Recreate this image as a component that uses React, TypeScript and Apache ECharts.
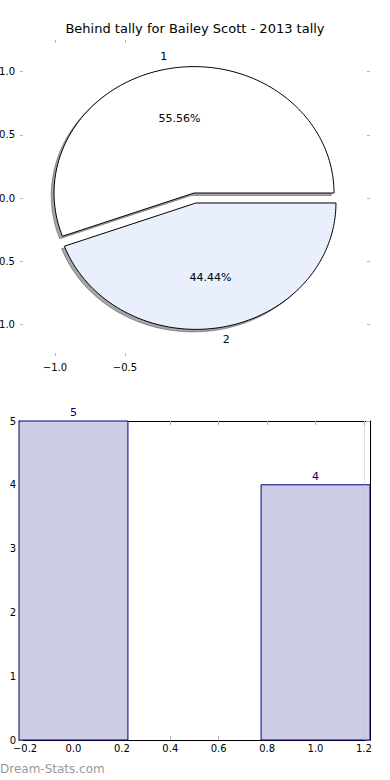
import React, { useEffect, useRef } from "react";
import * as echarts from "echarts";

const TITLE = "Behind tally for Bailey Scott - 2013 tally";
const WATERMARK = "Dream-Stats.com";

const PIE_LABELS = ["1", "2"];
const PIE_VALUES = [5, 4];
const PIE_EXPLODE = [0.04, 0.04];
const PIE_X_TICKS = [-1.0, -0.5];
const PIE_Y_TICKS = [-1.0, -0.5, 0.0, 0.5, 1.0];

const BAR_POSITIONS = [0, 1];
const BAR_VALUES = [5, 4];
const BAR_X_TICKS = [-0.2, 0.0, 0.2, 0.4, 0.6, 0.8, 1.0, 1.2];
const BAR_Y_TICKS = [0, 1, 2, 3, 4, 5];
const BAR_GUIDE_X = 1.2;

const PIE_COLORS = ["#ffffff", "#e9effc"];
const FONT = "DejaVu Sans";
const TICK_COLOR = "#b4b4b4";

const fmt1 = (v: number) => (v < 0 ? "\u2212" : "") + Math.abs(v).toFixed(1);

function wedgePoints(i: number) {
  const total = PIE_VALUES.reduce((a, b) => a + b, 0);
  const before = PIE_VALUES.slice(0, i).reduce((a, b) => a + b, 0);
  const t1 = (before / total) * 2 * Math.PI;
  const t2 = ((before + PIE_VALUES[i]) / total) * 2 * Math.PI;
  const tm = (t1 + t2) / 2;
  const e = PIE_EXPLODE[i];
  const cx = e * Math.cos(tm);
  const cy = e * Math.sin(tm);
  const pts: number[][] = [[cx, cy]];
  const N = 120;
  for (let k = 0; k <= N; k++) {
    const a = t1 + ((t2 - t1) * k) / N;
    pts.push([cx + Math.cos(a), cy + Math.sin(a)]);
  }
  return { pts, cx, cy, tm, pct: (PIE_VALUES[i] / total) * 100 };
}

export default function App() {
  const ref = useRef<HTMLDivElement>(null);
  useEffect(() => {
    if (!ref.current) return;
    const chart = echarts.init(ref.current, undefined, { renderer: "svg" });
    const tickStyle = { color: TICK_COLOR, width: 1 };
    const option: any = {
      animation: false,
      textStyle: { fontFamily: FONT },
      title: {
        text: TITLE,
        left: "center",
        top: 22,
        padding: 0,
        textStyle: { fontSize: 13, fontWeight: "normal", color: "#000", fontFamily: FONT },
      },
      graphic: [
        {
          type: "text",
          left: 0,
          top: 763,
          style: { text: WATERMARK, fill: "#999", font: `12px "${FONT}"` },
        },
      ],
      grid: [
        { left: 20, top: 40, width: 350, height: 316, show: false, containLabel: false, outerBoundsMode: "none" },
        { left: 19, top: 421, width: 351, height: 319, show: false, containLabel: false, outerBoundsMode: "none" },
      ],
      xAxis: [
        {
          type: "value", gridIndex: 0, min: -1.25, max: 1.25, position: "bottom",
          axisLine: { show: false, onZero: false },
          axisTick: { show: true, inside: true, length: 3, customValues: PIE_X_TICKS, lineStyle: tickStyle },
          axisLabel: { customValues: PIE_X_TICKS, formatter: fmt1, fontSize: 10, color: "#000", margin: 6, fontFamily: FONT },
          splitLine: { show: false },
        },
        {
          type: "value", gridIndex: 0, min: -1.25, max: 1.25, position: "top",
          axisLine: { show: false, onZero: false },
          axisTick: { show: true, inside: true, length: 3, customValues: PIE_X_TICKS, lineStyle: tickStyle },
          axisLabel: { show: false },
          splitLine: { show: false },
        },
        {
          type: "value", gridIndex: 1, min: -0.225, max: 1.225, position: "bottom",
          axisLine: { show: true, onZero: false, lineStyle: { color: "#000", width: 1 } },
          axisTick: { show: true, inside: true, length: 4, customValues: BAR_X_TICKS, lineStyle: tickStyle },
          axisLabel: { customValues: BAR_X_TICKS, formatter: fmt1, fontSize: 10, color: "#000", margin: 3, fontFamily: FONT },
          splitLine: { show: false },
        },
        {
          type: "value", gridIndex: 1, min: -0.225, max: 1.225, position: "top",
          axisLine: { show: true, onZero: false, lineStyle: { color: "#000", width: 1 } },
          axisTick: { show: true, inside: true, length: 4, customValues: BAR_X_TICKS, lineStyle: tickStyle },
          axisLabel: { show: false },
          splitLine: { show: false },
        },
      ],
      yAxis: [
        {
          type: "value", gridIndex: 0, min: -1.25, max: 1.25, position: "left",
          axisLine: { show: false, onZero: false },
          axisTick: { show: true, inside: true, length: 3, customValues: PIE_Y_TICKS, lineStyle: tickStyle },
          axisLabel: { customValues: PIE_Y_TICKS, formatter: fmt1, fontSize: 10, color: "#000", margin: 5, fontFamily: FONT },
          splitLine: { show: false },
        },
        {
          type: "value", gridIndex: 0, min: -1.25, max: 1.25, position: "right",
          axisLine: { show: false, onZero: false },
          axisTick: { show: true, inside: true, length: 3, customValues: PIE_Y_TICKS, lineStyle: tickStyle },
          axisLabel: { show: false },
          splitLine: { show: false },
        },
        {
          type: "value", gridIndex: 1, min: 0, max: 5, interval: 1, position: "left",
          axisLine: { show: true, onZero: false, lineStyle: { color: "#000", width: 1 } },
          axisTick: { show: true, inside: true, length: 4, customValues: BAR_Y_TICKS, lineStyle: tickStyle },
          axisLabel: { customValues: BAR_Y_TICKS, fontSize: 10, color: "#000", margin: 3, fontFamily: FONT },
          splitLine: { show: false },
        },
        {
          type: "value", gridIndex: 1, min: 0, max: 5, interval: 1, position: "right",
          axisLine: { show: true, onZero: false, lineStyle: { color: "#000", width: 1 } },
          axisTick: { show: true, inside: true, length: 4, customValues: BAR_Y_TICKS, lineStyle: tickStyle },
          axisLabel: { show: false },
          splitLine: { show: false },
        },
      ],
      series: [
        {
          type: "custom",
          name: "shadow",
          xAxisIndex: 0,
          yAxisIndex: 0,
          clip: false,
          z: 1,
          data: PIE_VALUES.map((v) => [0, 0, v]),
          renderItem: (params: any, api: any) => {
            const { pts } = wedgePoints(params.dataIndex);
            const points = pts.map((p) => api.coord([p[0] - 0.02, p[1] - 0.02]));
            return {
              type: "polygon",
              shape: { points },
              style: { fill: "rgba(77,77,77,0.5)", stroke: "rgba(77,77,77,0.5)", lineWidth: 1 },
            };
          },
        },
        {
          type: "custom",
          name: "pie",
          xAxisIndex: 0,
          yAxisIndex: 0,
          clip: false,
          z: 2,
          data: PIE_VALUES.map((v) => [0, 0, v]),
          renderItem: (params: any, api: any) => {
            const i = params.dataIndex;
            const { pts, cx, cy, tm, pct } = wedgePoints(i);
            const points = pts.map((p) => api.coord(p));
            const lx = cx + 1.1 * Math.cos(tm);
            const ly = cy + 1.1 * Math.sin(tm);
            const lp = api.coord([lx, ly]);
            const pp = api.coord([cx + 0.6 * Math.cos(tm), cy + 0.6 * Math.sin(tm)]);
            return {
              type: "group",
              children: [
                {
                  type: "polygon",
                  shape: { points },
                  style: { fill: PIE_COLORS[i], stroke: "#000", lineWidth: 1 },
                },
                {
                  type: "text",
                  x: lp[0],
                  y: lp[1],
                  style: {
                    text: PIE_LABELS[i],
                    fill: "#000",
                    font: `11px "${FONT}"`,
                    align: lx < 0 ? "right" : "left",
                    verticalAlign: "middle",
                  },
                },
                {
                  type: "text",
                  x: pp[0],
                  y: pp[1],
                  style: {
                    text: pct.toFixed(2) + "%",
                    fill: "#000",
                    font: `11px "${FONT}"`,
                    align: "center",
                    verticalAlign: "middle",
                  },
                },
              ],
            };
          },
        },
        {
          type: "custom",
          name: "bars",
          xAxisIndex: 2,
          yAxisIndex: 2,
          clip: false,
          z: 2,
          data: BAR_POSITIONS.map((x, i) => [x, BAR_VALUES[i]]),
          renderItem: (params: any, api: any) => {
            const x = api.value(0);
            const v = api.value(1);
            const p0 = api.coord([x - 0.225, v]);
            const p1 = api.coord([x + 0.225, 0]);
            const top = api.coord([x, v]);
            return {
              type: "group",
              children: [
                {
                  type: "rect",
                  shape: { x: p0[0], y: p0[1], width: p1[0] - p0[0], height: p1[1] - p0[1] },
                  style: { fill: "#ccccE5", stroke: "#000080", lineWidth: 1 },
                },
                {
                  type: "text",
                  x: top[0],
                  y: top[1] - 3,
                  style: {
                    text: String(v),
                    fill: "#000080",
                    font: `11px "${FONT}"`,
                    align: "center",
                    verticalAlign: "bottom",
                  },
                },
              ],
            };
          },
          markLine: {
            silent: true,
            symbol: "none",
            label: { show: false },
            lineStyle: { type: "dotted", color: "#c4c4c4", width: 1 },
            data: [{ xAxis: BAR_GUIDE_X }],
          },
        },
      ],
    };
    chart.setOption(option);
    return () => chart.dispose();
  }, []);
  return (
    <div
      ref={ref}
      style={{ position: "absolute", left: 0, top: 0, width: 390, height: 780, background: "#fff" }}
    />
  );
}
